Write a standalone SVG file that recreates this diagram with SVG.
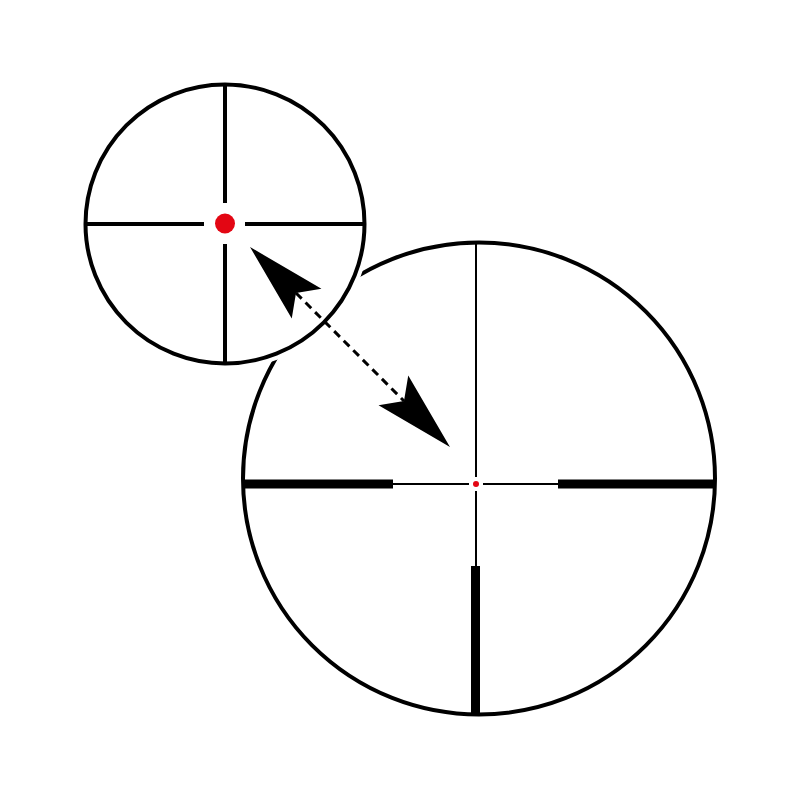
<svg xmlns="http://www.w3.org/2000/svg" width="800" height="800" viewBox="0 0 800 800">
  <defs>
    <style>
      .ring { fill: #ffffff; stroke: #000000; stroke-width: 4; }
      .halo { fill: #ffffff; stroke: #ffffff; stroke-width: 12; }
      .thin { stroke: #000000; stroke-width: 2; fill: none; }
      .thick { stroke: #000000; stroke-width: 9; fill: none; }
      .cross { stroke: #000000; stroke-width: 4; fill: none; }
      .dot { fill: #e30613; }
      .dash { stroke: #000000; stroke-width: 3; stroke-dasharray: 8 5.5; fill: none; }
    </style>
    <marker id="head" markerUnits="userSpaceOnUse" viewBox="-16 -22 82 44" markerWidth="82" markerHeight="44" refX="0" refY="0" orient="auto-start-reverse">
      <path d="M65,0 L-15,-21 L0,0 L-15,21 Z" fill="#000000"/>
    </marker>
  </defs>
  <rect width="800" height="800" fill="#ffffff"/>

  <g id="large-reticle">
    <circle class="ring" cx="479" cy="478.5" r="236"/>
    <line class="thin" x1="476" y1="241" x2="476" y2="477"/>
    <line class="thin" x1="476" y1="491" x2="476" y2="566"/>
    <line class="thin" x1="393" y1="484" x2="469" y2="484"/>
    <line class="thin" x1="483" y1="484" x2="558" y2="484"/>
    <line class="thick" x1="243" y1="484" x2="393" y2="484"/>
    <line class="thick" x1="558" y1="484" x2="715" y2="484"/>
    <line class="thick" x1="475.5" y1="566" x2="475.5" y2="715"/>
    <circle class="dot" cx="476" cy="484" r="3"/>
  </g>

  <g id="small-reticle">
    <circle class="halo" cx="225" cy="224" r="139.5"/>
    <circle class="ring" cx="225" cy="224" r="139.5"/>
    <line class="cross" x1="225" y1="85" x2="225" y2="203"/>
    <line class="cross" x1="225" y1="244" x2="225" y2="363"/>
    <line class="cross" x1="86" y1="224" x2="204" y2="224"/>
    <line class="cross" x1="245" y1="224" x2="364" y2="224"/>
    <circle class="dot" cx="225" cy="223.5" r="10"/>
  </g>

  <g id="connectors">
    <line class="dash" x1="296" y1="293" x2="404" y2="401" marker-start="url(#head)" marker-end="url(#head)"/>
  </g>
</svg>
